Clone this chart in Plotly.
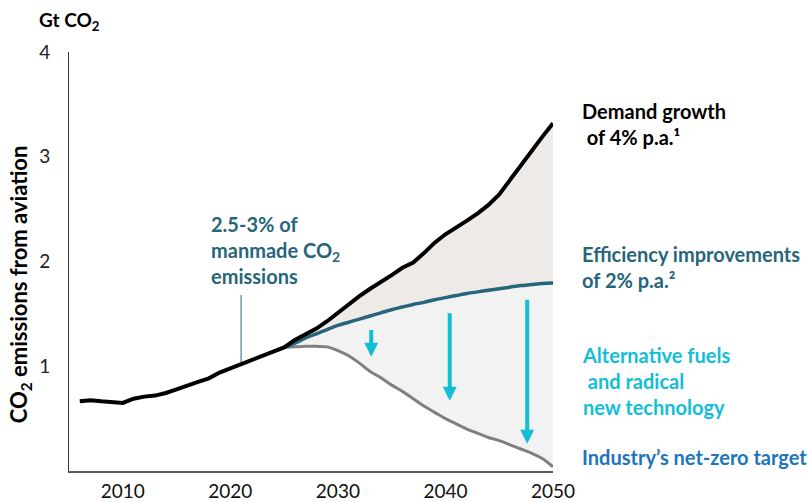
import plotly.graph_objects as go

# ---------------- data ----------------
hist_years = list(range(2006, 2026))
demand_hist = [0.665, 0.675, 0.665, 0.655, 0.65, 0.69, 0.71, 0.72, 0.745, 0.78,
               0.82, 0.85, 0.885, 0.94, 0.98, 1.02, 1.05, 1.09, 1.14, 1.18]

proj_years = list(range(2025, 2051))
demand_proj = [1.18, 1.25, 1.30, 1.36, 1.43, 1.51, 1.60, 1.67, 1.74, 1.80,
               1.87, 1.94, 1.99, 2.08, 2.18, 2.26, 2.32, 2.39, 2.46, 2.54,
               2.64, 2.78, 2.92, 3.06, 3.19, 3.32]
efficiency = [1.18, 1.22, 1.27, 1.31, 1.35, 1.39, 1.42, 1.45, 1.48, 1.51,
              1.54, 1.565, 1.59, 1.61, 1.635, 1.655, 1.675, 1.695, 1.71, 1.725,
              1.74, 1.755, 1.77, 1.78, 1.79, 1.795]
net_zero = [1.18, 1.185, 1.19, 1.19, 1.185, 1.15, 1.10, 1.03, 0.95, 0.89,
            0.82, 0.76, 0.69, 0.62, 0.56, 0.50, 0.45, 0.40, 0.36, 0.32,
            0.29, 0.25, 0.21, 0.17, 0.12, 0.04]

arrow_years = [2033.1, 2040.4, 2047.6]
arrow_top = [1.36, 1.52, 1.65]
arrow_tip = [1.09, 0.67, 0.26]

callout_year = 2021
callout_top = 1.68
callout_bottom = 1.04

x_ticks = [2010, 2020, 2030, 2040, 2050]
y_ticks = [1, 2, 3, 4]

# ---------------- style ----------------
FONT = "Lato"
BLACK = "#000000"
TEAL = "#27667A"
CYAN = "#12BED6"
BLUE = "#1C75BC"
GRAY = "#808080"

fig = go.Figure()

# fills
fig.add_trace(go.Scatter(x=proj_years, y=net_zero, mode="lines", line=dict(width=0, shape="spline"),
                         hoverinfo="skip", showlegend=False))
fig.add_trace(go.Scatter(x=proj_years, y=efficiency, mode="lines", line=dict(width=0, shape="spline"),
                         fill="tonexty", fillcolor="#F2F2F2", hoverinfo="skip", showlegend=False))
fig.add_trace(go.Scatter(x=proj_years, y=demand_proj, mode="lines", line=dict(width=0),
                         fill="tonexty", fillcolor="#EDEAE7", hoverinfo="skip", showlegend=False))

# lines
fig.add_trace(go.Scatter(x=proj_years, y=net_zero, mode="lines",
                         line=dict(color=GRAY, width=3, shape="spline"), showlegend=False))
fig.add_trace(go.Scatter(x=proj_years, y=efficiency, mode="lines",
                         line=dict(color=TEAL, width=3.5, shape="spline"), showlegend=False))
fig.add_trace(go.Scatter(x=hist_years + proj_years[1:], y=demand_hist + demand_proj[1:], mode="lines",
                         line=dict(color=BLACK, width=4), showlegend=False))

# callout leader line
fig.add_shape(type="line", x0=callout_year, x1=callout_year, y0=callout_bottom, y1=callout_top,
              line=dict(color=TEAL, width=1))

# arrows
for xa, yt, yb in zip(arrow_years, arrow_top, arrow_tip):
    fig.add_annotation(x=xa, y=yb, ax=xa, ay=yt, xref="x", yref="y", axref="x", ayref="y",
                       text="", showarrow=True, arrowhead=2, arrowsize=0.7, arrowwidth=4,
                       arrowcolor=CYAN, standoff=0)

def label(text, x, y, color, size=20, xanchor="left", yanchor="middle", angle=0):
    fig.add_annotation(x=x, y=y, xref="paper", yref="paper", text=text, showarrow=False,
                       xanchor=xanchor, yanchor=yanchor, align="left", textangle=angle,
                       font=dict(family=FONT, size=size, color=color, weight="bold"))

label("Gt CO<sub>2</sub>", -0.066, 1.074, BLACK, size=19)
label("CO<sub>2</sub> emissions from aviation", -0.102, 0.445, BLACK, size=22,
      xanchor="center", angle=-90)
label("2.5-3% of<br>manmade CO<sub>2</sub><br>emissions", 0.289, 0.5286, TEAL)
label("Demand growth<br> of 4% p.a.¹", 1.0558, 0.827, BLACK)
label("Efficiency improvements<br>of 2% p.a.²", 1.0558, 0.4857, TEAL)
label("Alternative fuels<br> and radical<br>new technology", 1.0558, 0.2148, CYAN)
label("Industry’s net-zero target", 1.0558, 0.0334, BLUE)

fig.update_layout(
    template="none",
    width=808, height=502,
    margin=dict(l=69, r=255, t=52, b=31),
    plot_bgcolor="white", paper_bgcolor="white",
    font=dict(family=FONT, size=19, color="#222222"),
    xaxis=dict(range=[2005, 2050], tickvals=x_ticks, showgrid=False, zeroline=False,
               showline=True, linecolor="#595959", linewidth=2, ticks="", automargin=False,
               tickfont=dict(size=19, color="#111111"), ticklabelstandoff=2),
    yaxis=dict(range=[0, 4], tickvals=y_ticks, showgrid=False, zeroline=False,
               showline=True, linecolor="#333333", linewidth=1, ticks="", automargin=False,
               tickfont=dict(size=19, color="#222222"), ticklabelstandoff=14),
)

fig.write_html("out.html")
